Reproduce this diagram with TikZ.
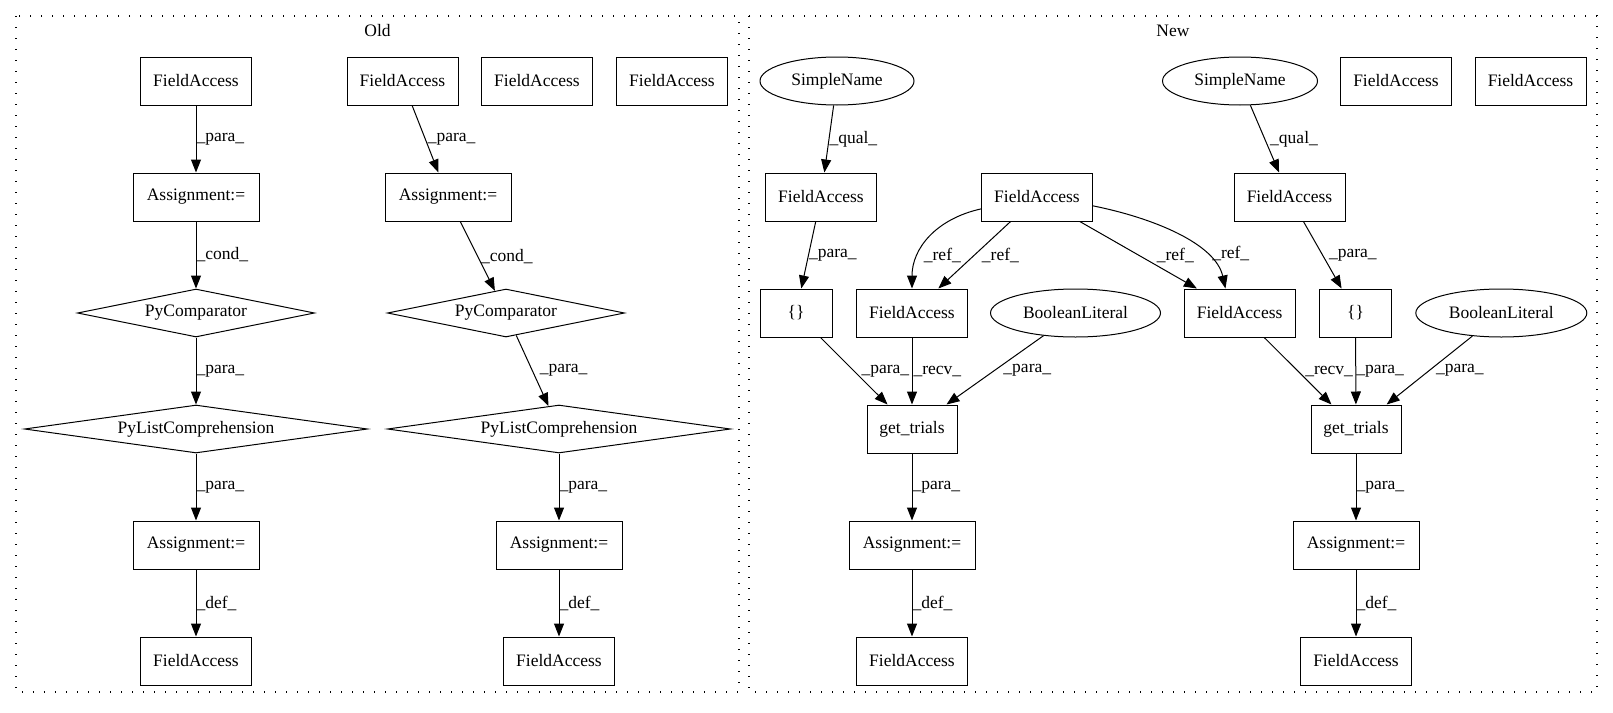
\documentclass[tikz,border=0pt]{standalone}
\usepackage{fontspec}
\setmainfont{Liberation Serif}
\usepackage{tikz}
\usetikzlibrary{arrows.meta,shapes.geometric}
\newcommand{\graphFont}{\fontsize{17.5pt}{21pt}\selectfont}
\tikzstyle{graphPlane} = [x = 1pt, y = -1pt, every node/.style={font=\graphFont}]
\tikzstyle{clusterFrame} = [line width=1.3pt, dash pattern=on 1.3pt off 9.7pt]
\tikzstyle{plainBox} = [draw, rectangle, minimum height=48pt, inner sep=0pt, line width=1pt]
\tikzstyle{fieldBox} = [plainBox, minimum width=111pt]
\tikzstyle{assignBox} = [plainBox, minimum width=126pt]
\tikzstyle{braceBox} = [plainBox, minimum width=72pt]
\tikzstyle{callBox} = [plainBox, minimum width=90pt]
\tikzstyle{diamondBox} = [draw, diamond, aspect=7, minimum height=48pt, inner sep=0pt, line width=1pt]
\tikzstyle{ovalBox} = [draw, ellipse, minimum height=48pt, inner sep=0pt, line width=1pt]
\tikzstyle{edgeArrow} = [-{Triangle[length=13pt, width=10pt]}, line width=1pt]
\tikzstyle{edgeLabel} = [anchor=west, inner sep=0pt, midway]
\newcommand{\fieldAccess}[2]{\node [fieldBox] (#1) at (#2) {FieldAccess};}
\newcommand{\assignment}[2]{\node [assignBox] (#1) at (#2) {Assignment:=};}
\newcommand{\flowEdge}[4]{\draw [edgeArrow] (#1) -- node [edgeLabel, xshift=#4] {\_#3\_} (#2);}
\begin{document}
\begin{tikzpicture}[graphPlane]
  \useasboundingbox (0,0) rectangle (1613,712);

  % old
  \draw [clusterFrame] (16,16) rectangle (739,692);
  \node (oldTitle) at (377.5,31) {Old};
  \fieldAccess{oFaA}{196,81}
  \fieldAccess{oFaB}{402.5,81}
  \fieldAccess{oFaC}{537,81}
  \fieldAccess{oFaD}{672,81}
  \assignment{oAsA}{196,197}
  \assignment{oAsB}{448,197}
  \node [diamondBox, minimum width=237pt] (oCmpA) at (196,313) {PyComparator};
  \node [diamondBox, minimum width=237pt] (oCmpB) at (506,313) {PyComparator};
  \node [diamondBox, minimum width=343pt] (oLcA) at (196,429) {PyListComprehension};
  \node [diamondBox, minimum width=343pt] (oLcB) at (559,429) {PyListComprehension};
  \assignment{oAsC}{196,545}
  \assignment{oAsD}{559,545}
  \fieldAccess{oFaE}{196,661}
  \fieldAccess{oFaF}{559,661}
  \flowEdge{oFaA}{oAsA}{para}{0}
  \flowEdge{oFaB}{oAsB}{para}{2}
  \flowEdge{oAsA}{oCmpA}{cond}{0}
  \flowEdge{oAsB}{oCmpB}{cond}{3}
  \flowEdge{oCmpA}{oLcA}{para}{0}
  \flowEdge{oCmpB}{oLcB}{para}{7}
  \flowEdge{oLcA}{oAsC}{para}{0}
  \flowEdge{oLcB}{oAsD}{para}{0}
  \flowEdge{oAsC}{oFaE}{def}{0}
  \flowEdge{oAsD}{oFaF}{def}{0}

  % new
  \draw [clusterFrame] (749,16) rectangle (1597,692);
  \node (newTitle) at (1173,31) {New};
  \node [ovalBox, minimum width=154pt] (nSnA) at (837,81) {SimpleName};
  \node [ovalBox, minimum width=155pt] (nSnB) at (1240,81) {SimpleName};
  \fieldAccess{nFaTopA}{1396,81}
  \fieldAccess{nFaTopB}{1530.5,81}
  \fieldAccess{nFaQA}{821,197}
  \fieldAccess{nFaMid}{1037,197}
  \fieldAccess{nFaQB}{1289.5,197}
  \node [braceBox] (nBrA) at (796,313) {\{\}};
  \fieldAccess{nFaRA}{912,313}
  \node [ovalBox, minimum width=170pt] (nBlA) at (1075.5,313) {BooleanLiteral};
  \fieldAccess{nFaRB}{1239.6,313}
  \node [braceBox] (nBrB) at (1355.5,313) {\{\}};
  \node [ovalBox, minimum width=171pt] (nBlB) at (1501.3,313) {BooleanLiteral};
  \node [callBox] (nGtA) at (912,429) {get\_trials};
  \node [callBox] (nGtB) at (1356,429) {get\_trials};
  \assignment{nAsA}{912,545}
  \assignment{nAsB}{1356,545}
  \fieldAccess{nFaEndA}{912,661}
  \fieldAccess{nFaEndB}{1356,661}
  \flowEdge{nSnA}{nFaQA}{qual}{0}
  \flowEdge{nSnB}{nFaQB}{qual}{5}
  \flowEdge{nFaQA}{nBrA}{para}{0}
  \flowEdge{nFaQB}{nBrB}{para}{6}
  \draw [edgeArrow] (nFaMid.192) .. controls +(-45,10) and +(0,-40) .. node [edgeLabel, pos=.7, xshift=5] {\_ref\_} (nFaRA.north);
  \flowEdge{nFaMid}{nFaRA}{ref}{7}
  \flowEdge{nFaMid}{nFaRB}{ref}{18}
  \draw [edgeArrow] (nFaMid.351) .. controls +(60,12) and +(-10,-45) .. node [edgeLabel, pos=.7, xshift=8] {\_ref\_} (nFaRB.120);
  \flowEdge{nBrA}{nGtA}{para}{7}
  \flowEdge{nFaRA}{nGtA}{recv}{1}
  \flowEdge{nBlA}{nGtA}{para}{8}
  \flowEdge{nFaRB}{nGtB}{recv}{7}
  \flowEdge{nBrB}{nGtB}{para}{0}
  \flowEdge{nBlB}{nGtB}{para}{6}
  \flowEdge{nGtA}{nAsA}{para}{0}
  \flowEdge{nGtB}{nAsB}{para}{0}
  \flowEdge{nAsA}{nFaEndA}{def}{0}
  \flowEdge{nAsB}{nFaEndB}{def}{0}
\end{tikzpicture}
\end{document}
